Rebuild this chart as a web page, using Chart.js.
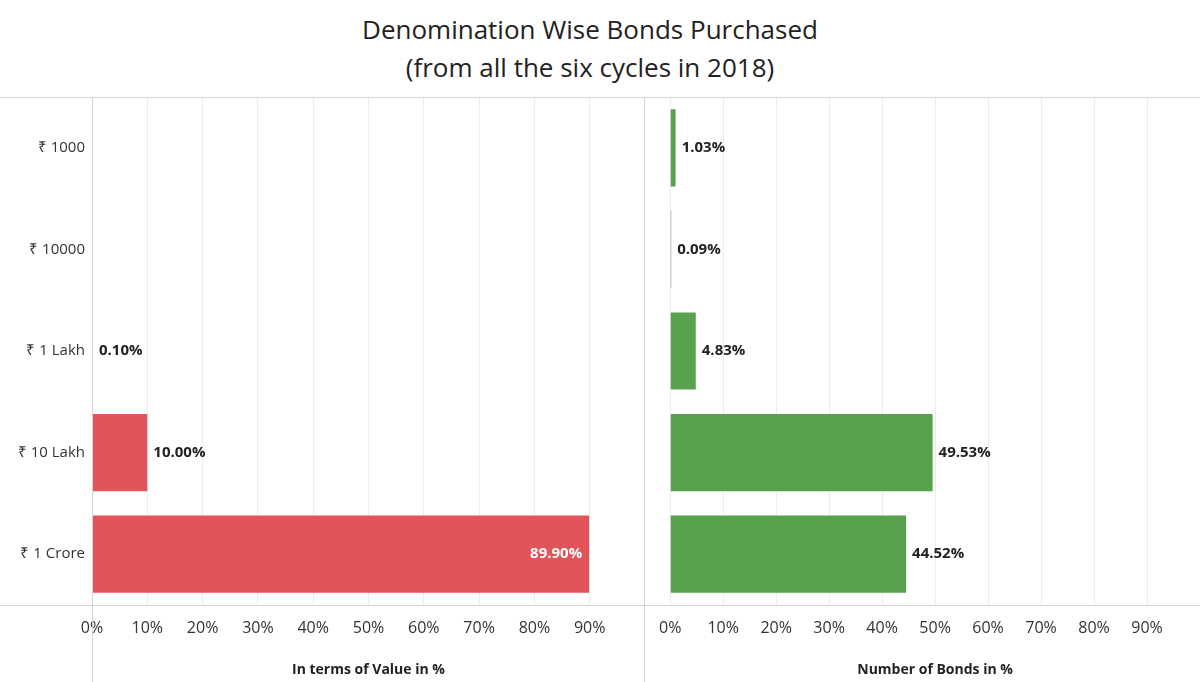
<!DOCTYPE html>
<html><head><meta charset="utf-8">
<script src="https://cdn.jsdelivr.net/npm/chart.js@4"></script>
<style>
body{margin:0;width:1200px;height:682px;background:#fff;font-family:"Open Sans",sans-serif;position:relative;overflow:hidden}
#title{position:absolute;top:10px;left:0;width:1180px;text-align:center;font-size:26px;line-height:38px;color:#222}
.ln{position:absolute;background:#d4d4d4}
canvas{position:absolute}
</style></head><body>
<div id="title">Denomination Wise Bonds Purchased<br>(from all the six cycles in 2018)</div>
<div style="position:absolute;left:0;top:97px;width:645px;height:585px"><canvas id="c1"></canvas></div>
<div style="position:absolute;left:645px;top:97px;width:555px;height:585px"><canvas id="c2"></canvas></div>
<div class="ln" style="left:0;top:97px;width:1200px;height:1px"></div>
<div class="ln" style="left:0;top:605px;width:1200px;height:1px"></div>
<div class="ln" style="left:92px;top:97px;width:1px;height:585px"></div>
<div class="ln" style="left:644px;top:97px;width:1px;height:585px"></div>
<script>
const categories=["₹ 1000","₹ 10000","₹ 1 Lakh","₹ 10 Lakh","₹ 1 Crore"];
const valuePct=[0.002,0.003,0.10,10.00,89.90];
const bondPct=[1.03,0.09,4.83,49.53,44.52];
const tickValues=[0,10,20,30,40,50,60,70,80,90];
const font="'Open Sans', sans-serif";
const labelPlugin={id:'lbl',afterDatasetsDraw(ch,a,opts){
  const ctx=ch.ctx,meta=ch.getDatasetMeta(0),d=ch.data.datasets[0].data;
  ctx.save();ctx.textBaseline='middle';
  meta.data.forEach((b,i)=>{
    if(opts.showY){ctx.font="15px "+font;ctx.fillStyle='#333';ctx.textAlign='right';ctx.fillText(categories[i],85,b.y);}
    const v=d[i];if(v<0.05)return;
    ctx.font="bold 15px "+font;
    const t=v.toFixed(2)+'%';
    if(v>80){ctx.fillStyle='#fff';ctx.textAlign='right';ctx.fillText(t,b.x-7,b.y);}
    else{ctx.fillStyle='#222';ctx.textAlign='left';ctx.fillText(t,b.x+6,b.y);}
  });ctx.restore();}};
function make(id,data,color,title,showY){
  new Chart(document.getElementById(id),{type:'bar',
    data:{labels:categories,datasets:[{data:data,backgroundColor:color,categoryPercentage:0.76,barPercentage:1,minBarLength:1}]},
    options:{indexAxis:'y',responsive:true,maintainAspectRatio:false,animation:false,
      layout:{padding:{left:showY?92:1,right:0,top:0,bottom:0}},
      plugins:{legend:{display:false},tooltip:{enabled:false},lbl:{showY:showY}},
      scales:{
        x:{min:0,max:100,afterFit(s){s.height=77;},
          afterBuildTicks(s){s.ticks=tickValues.map(v=>({value:v}));},
          grid:{color:'#ececec',drawTicks:false},border:{display:false},
          ticks:{padding:14,color:'#333',font:{size:16,family:font},callback:v=>v+'%'},
          title:{display:true,text:title,color:'#222',font:{size:14,weight:'bold',family:font},padding:{top:8}}},
        y:{display:false}
      }},plugins:[labelPlugin]});
}
make('c1',valuePct,'#E2545A','In terms of Value in %',true);
make('c2',bondPct,'#59A14F','Number of Bonds in %',false);
</script></body></html>
